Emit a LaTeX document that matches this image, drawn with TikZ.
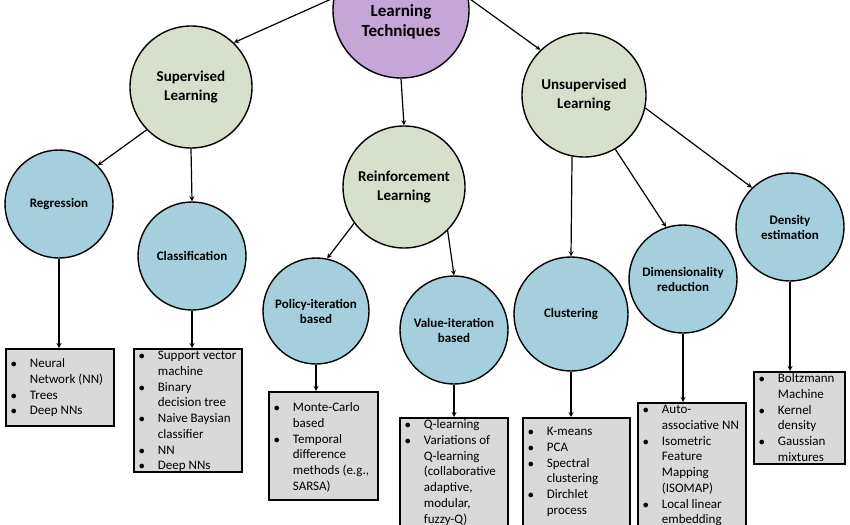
\documentclass[tikz,border=0pt]{standalone}
\usepackage{amsmath}
\usepackage{amssymb}
\usepackage{fontspec}
\setmainfont{Carlito}
\usepackage{color}
\usepackage{tikz}

\definecolor{rootpurple}{RGB}{196,167,214}
\definecolor{branchgreen}{RGB}{215,224,205}
\definecolor{leafblue}{RGB}{166,207,221}
\definecolor{listgray}{RGB}{217,217,217}

% width, height, top gap, rows
\newcommand{\itemlist}[4]{\parbox[c][#2][t]{#1}{\vspace*{#3}\begin{tabular}[t]{@{\hspace{5pt}}p{19pt}@{}l@{}}#4\end{tabular}}}

\begin{document}
\begin{tikzpicture}[x=1pt,y=-1pt,>=stealth,
  root/.style={circle,draw,line width=1.4pt,fill=rootpurple,inner sep=0pt},
  branch/.style={circle,draw,line width=1.4pt,fill=branchgreen,inner sep=0pt,align=center,font=\bfseries\fontsize{15}{18.5}\selectfont},
  leaf/.style={circle,draw,line width=1.4pt,fill=leafblue,inner sep=0pt,minimum size=108pt,align=center,font=\bfseries\fontsize{13}{15}\selectfont},
  listbox/.style={draw,line width=1.8pt,fill=listgray,inner sep=0pt,anchor=north west,font=\fontsize{13}{15.7}\selectfont},
  link/.style={line width=1.2pt}]
\useasboundingbox (0,0) rectangle (850,524);

\node[root] (lt) at (401,10) [minimum size=136pt, label={[yshift=-12pt,align=center,font=\bfseries\fontsize{17}{20}\selectfont]center:Learning\\Techniques}] {};
\node[branch] (sup) at (191,87) [minimum size=122pt] {Supervised\\Learning};
\node[branch] (rl) at (404,187) [minimum size=122pt] {Reinforcement\\Learning};
\node[branch] (unsup) at (584,95) [minimum size=124pt] {Unsupervised\\Learning};
	\node[leaf] (reg) at (59,204) {Regression};
	\node[leaf] (cls) at (192,256) {Classification};
	\node[leaf] (pib) at (316,311) [minimum size=106pt] {Policy-iteration\\based};
	\node[leaf] (vib) at (454,330) {Value-iteration\\based};
	\node[leaf] (clu) at (571,314) [minimum size=114pt] {Clustering};
	\node[leaf] (dim) at (683,279) {Dimensionality\\reduction};
	\node[leaf] (den) at (790,227) {Density\\estimation};
		\node[listbox] (regl) at (5,348) {\itemlist{108pt}{77pt}{8pt}{$\bullet$ & Neural\\ & Network (NN)\\ $\bullet$ & Trees\\ $\bullet$ & Deep NNs}};
		\node[listbox] (clsl) at (133,348) {\itemlist{108pt}{123pt}{0pt}{$\bullet$ & Support vector\\ & machine\\ $\bullet$ & Binary\\ & decision tree\\ $\bullet$ & Naive Baysian\\ & classifier\\ $\bullet$ & NN\\ $\bullet$ & Deep NNs}};
		\node[listbox] (pibl) at (268,391) {\itemlist{109pt}{108pt}{9pt}{$\bullet$ & Monte-Carlo\\ & based\\ $\bullet$ & Temporal\\ & difference\\ & methods (e.g.,\\ & SARSA)}};
		\node[listbox] (vibl) at (399,417) {\itemlist{108pt}{125pt}{0pt}{$\bullet$ & Q-learning\\ $\bullet$ & Variations of\\ & Q-learning\\ & (collaborative\\ & adaptive,\\ & modular,\\ & fuzzy-Q)}};
		\node[listbox] (clul) at (522,417) {\itemlist{107pt}{125pt}{7pt}{$\bullet$ & K-means\\ $\bullet$ & PCA\\ $\bullet$ & Spectral\\ & clustering\\ $\bullet$ & Dirchlet\\ & process}};
		\node[listbox] (diml) at (637,402) {\itemlist{108pt}{140pt}{0pt}{$\bullet$ & Auto-\\ & associative NN\\ $\bullet$ & Isometric\\ & Feature\\ & Mapping\\ & (ISOMAP)\\ $\bullet$ & Local linear\\ & embedding}};
		\node[listbox] (denl) at (753,371) {\itemlist{91pt}{92pt}{0pt}{$\bullet$ & Boltzmann\\ & Machine\\ $\bullet$ & Kernel\\ & density\\ $\bullet$ & Gaussian\\ & mixtures}};

\draw[link][->] (lt.170) to (sup.46);
\draw[link][->] (lt.south) to (rl.north);
\draw[link][->] (lt.10) to (unsup.134);
\draw[link][->] (sup.-136) to (reg.45);
\draw[link][->] (sup.south) to (cls.north);
\draw[link][->] (rl.-144) to (pib.78);
\draw[link][->] (rl.-45) to (vib.north);
\draw[link][->] (unsup.-101) to (clu.north);
\draw[link][->] (unsup.-60) to (dim.108);
\draw[link][->] (unsup.-12) to (den.134);
\draw[link][->] (reg.south) to (reg.south |- regl.north);
\draw[link][->] (cls.south) to (cls.south |- clsl.north);
\draw[link][->] (pib.south) to (pib.south |- pibl.north);
\draw[link][->] (vib.south) to (vib.south |- vibl.north);
\draw[link][->] (clu.south) to (clu.south |- clul.north);
\draw[link][->] (dim.south) to (dim.south |- diml.north);
\draw[link][->] (den.south) to (den.south |- denl.north);
\end{tikzpicture}
\end{document}
